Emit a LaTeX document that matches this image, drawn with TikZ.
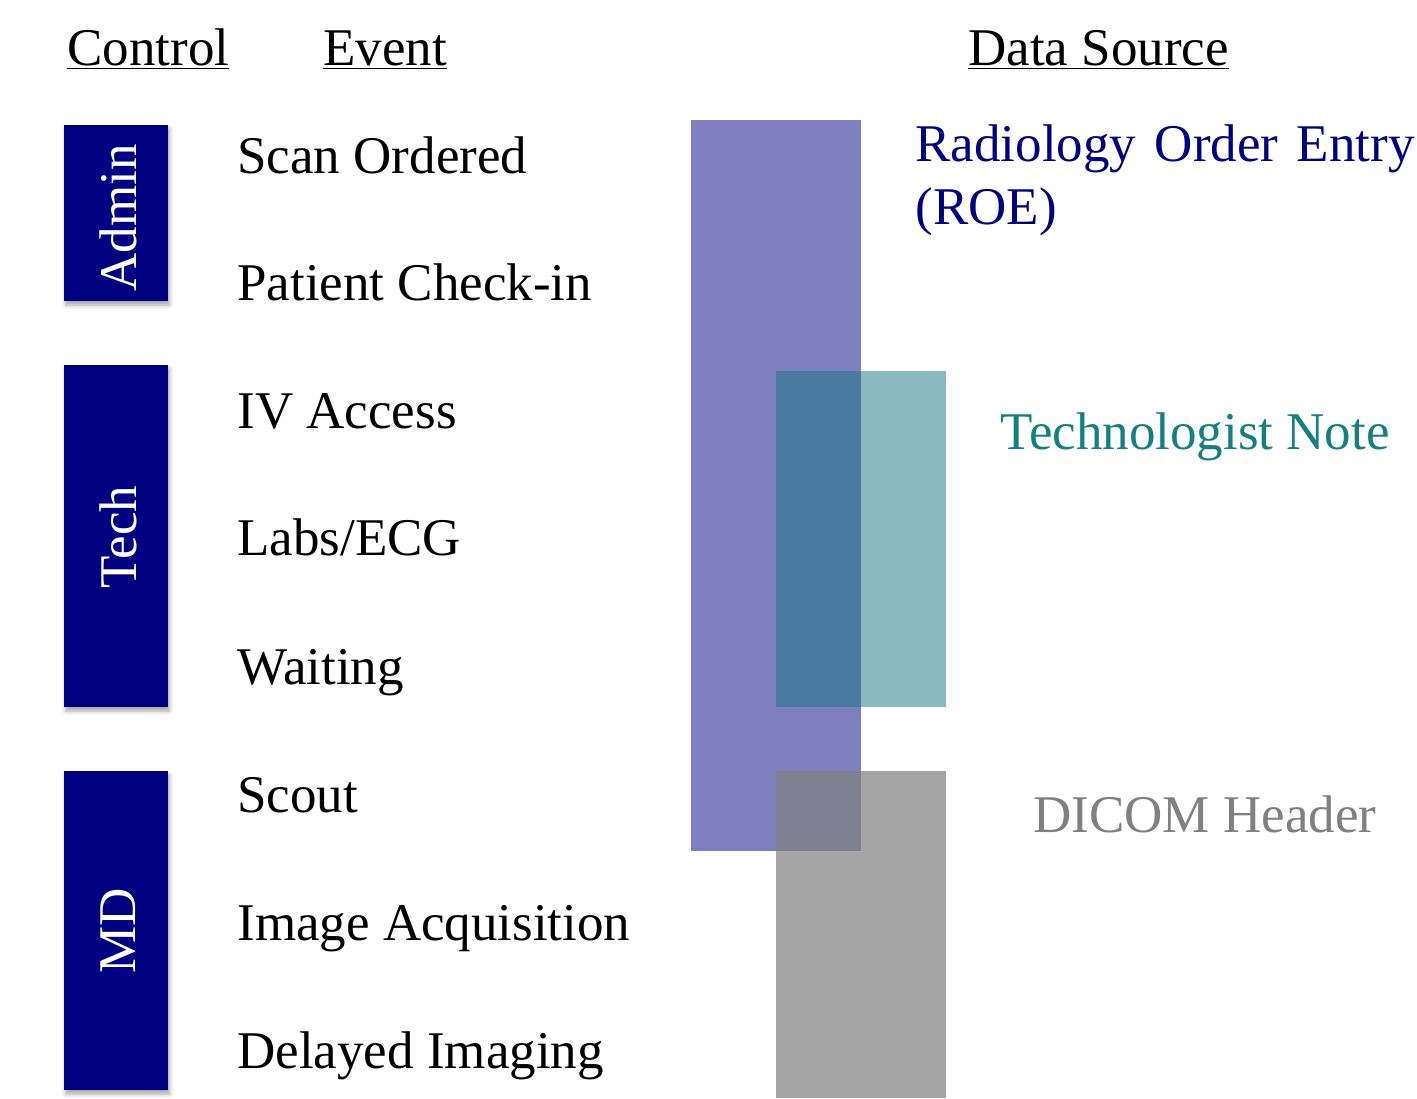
\documentclass[tikz,border=0pt]{standalone}
\usepackage{fontspec}
\setmainfont{Liberation Serif}
\usetikzlibrary{shadows.blur}
\definecolor{navy}{RGB}{0,0,128}
\definecolor{tealbox}{RGB}{21,117,129}
\definecolor{tealtxt}{RGB}{20,128,128}
\definecolor{graybox}{RGB}{127,127,127}
\definecolor{graytxt}{RGB}{128,128,128}
\tikzset{
  ctrlbox/.style={fill=navy, draw=none, blur shadow={shadow xshift=0.8pt, shadow yshift=-2pt, shadow blur radius=2pt, shadow opacity=35}},
  ctrllabel/.style={text=white, rotate=90, font=\fontsize{26.5}{30}\selectfont, inner sep=0pt},
  evt/.style={anchor=base west, inner sep=0pt, font=\fontsize{26.5}{30}\selectfont},
  hdr/.style={anchor=base west, inner sep=0pt, font=\fontsize{26.5}{30}\selectfont},
  src/.style={anchor=base west, inner sep=0pt, font=\fontsize{26.5}{30}\selectfont}
}
\begin{document}
\begin{tikzpicture}[x=0.5pt,y=-0.5pt]
\useasboundingbox (0,0) rectangle (1417,1098);
% headers
\node[hdr] (hctrl) at (67,65) {\underline{Control}};
\node[hdr] (hevt) at (323,65) {\underline{Event}};
\node[hdr] (hsrc) at (968,65) {\underline{Data Source}};
% control boxes
\path[ctrlbox] (64,125) rectangle (168,301);
\path[ctrlbox] (64,365) rectangle (168,707);
\path[ctrlbox] (64,771) rectangle (168,1090);
\node[ctrllabel] (admin) at (118,218) {Admin};
\node[ctrllabel] (tech) at (118,537) {Tech};
\node[ctrllabel] (md) at (118,931) {MD};
% events
\node[evt] (e1) at (237,173) {Scan Ordered};
\node[evt] (e2) at (237,300) {Patient Check-in};
\node[evt] (e3) at (237,428) {IV Access};
\node[evt] (e4) at (237,555) {Labs/ECG};
\node[evt] (e5) at (237,684) {Waiting};
\node[evt] (e6) at (237,812) {Scout};
\node[evt] (e7) at (237,940) {Image Acquisition};
\node[evt] (e8) at (237,1068) {Delayed Imaging};
% source bars
\fill[navy, fill opacity=0.5] (691,120) rectangle (861,851);
\fill[tealbox, fill opacity=0.5] (776,371) rectangle (946,707);
\fill[graybox, fill opacity=0.7] (776,771) rectangle (946,1098);
% source labels
\node[src, text=navy] (roe1) at (915,161) {Radiology\hspace{0.35em}Order\hspace{0.35em}Entry};
\node[src, text=navy] (roe2) at (915,224) {(ROE)};
\node[src, text=tealtxt] (tn) at (1000,449) {Technologist Note};
\node[src, text=graytxt] (dh) at (1033,832) {DICOM Header};
\end{tikzpicture}
\end{document}
